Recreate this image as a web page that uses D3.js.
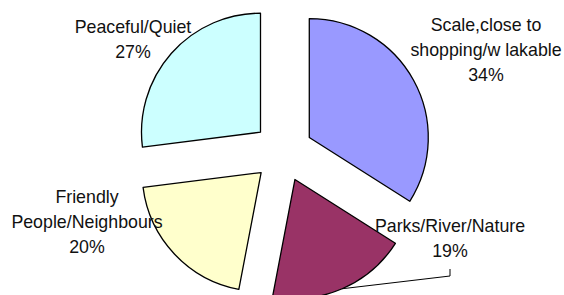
<!DOCTYPE html>
<html>
<head>
	<script src="https://cdn.jsdelivr.net/npm/d3@7"></script>
	<style>
		html, body {
			padding: 0;
			margin: 0;
			background: white;
		}
	</style>
</head>
<body>
	<script>
		// ~ ~ ~ DATA ~ ~ ~
		const categories = ["Scale,close to shopping/w lakable", "Parks/River/Nature", "Friendly People/Neighbours", "Peaceful/Quiet"];
		const values = [34, 19, 20, 27];
		const labelLines = [
			["Scale,close to", "shopping/w lakable", "34%"],
			["Parks/River/Nature", "19%"],
			["Friendly", "People/Neighbours", "20%"],
			["Peaceful/Quiet", "27%"]
		];

		// ~ ~ ~ STYLE / LAYOUT ~ ~ ~
		const COLORS = ["#9999ff", "#993366", "#ffffcc", "#ccffff"];
		const WIDTH = 564, HEIGHT = 295;
		const CENTER = { x: 283, y: 152 };
		const RADIUS = 119;
		const EXPLODE = 30;
		const FONT_SIZE = 17.8;
		const LINE_HEIGHT = 25;
		// first baseline of each label block
		const LABEL_POS = [
			{ x: 486, y: 31 },
			{ x: 450, y: 232 },
			{ x: 87, y: 203 },
			{ x: 133, y: 33 }
		];

		var svg = d3.select("body").append("svg")
			.attr("width", WIDTH)
			.attr("height", HEIGHT);

		var pie = d3.pie().sort(null).value(d => d);
		var arcs = pie(values);
		var arc = d3.arc().innerRadius(0).outerRadius(RADIUS);

		// offset of a slice along its bisector
		var shift = function(a, dist) {
			var mid = (a.startAngle + a.endAngle) / 2;
			return { x: Math.sin(mid) * dist, y: -Math.cos(mid) * dist };
		};

		var g = svg.append("g")
			.attr("transform", "translate(" + CENTER.x + "," + CENTER.y + ")");

		g.selectAll("path.slice")
			.data(arcs)
			.enter().append("path")
			.attr("class", "slice")
			.attr("d", arc)
			.attr("transform", function(a) {
				var s = shift(a, EXPLODE);
				return "translate(" + s.x + "," + s.y + ")";
			})
			.attr("fill", (a, i) => COLORS[i])
			.attr("stroke", "black")
			.attr("stroke-width", 1.3)
			.attr("stroke-linejoin", "round");

		// leader line for the Parks slice
		var parks = arcs[1];
		var tip = shift(parks, EXPLODE + RADIUS);
		var elbow = { x: LABEL_POS[1].x - CENTER.x, y: 276 - CENTER.y };
		g.append("polyline")
			.attr("points", [
				[tip.x, tip.y],
				[elbow.x, elbow.y],
				[elbow.x, elbow.y - 7]
			].map(p => p.join(",")).join(" "))
			.attr("fill", "none")
			.attr("stroke", "black")
			.attr("stroke-width", 1);

		// labels
		svg.selectAll("text.label")
			.data(labelLines)
			.enter().append("text")
			.attr("class", "label")
			.attr("text-anchor", "middle")
			.attr("font-family", "'Liberation Sans', Arial, sans-serif")
			.attr("font-size", FONT_SIZE)
			.attr("fill", "#111")
			.each(function(lines, i) {
				var t = d3.select(this);
				lines.forEach(function(line, j) {
					t.append("tspan")
						.attr("x", LABEL_POS[i].x)
						.attr("y", LABEL_POS[i].y + j * LINE_HEIGHT)
						.text(line);
				});
			});
	</script>
</body>
</html>
